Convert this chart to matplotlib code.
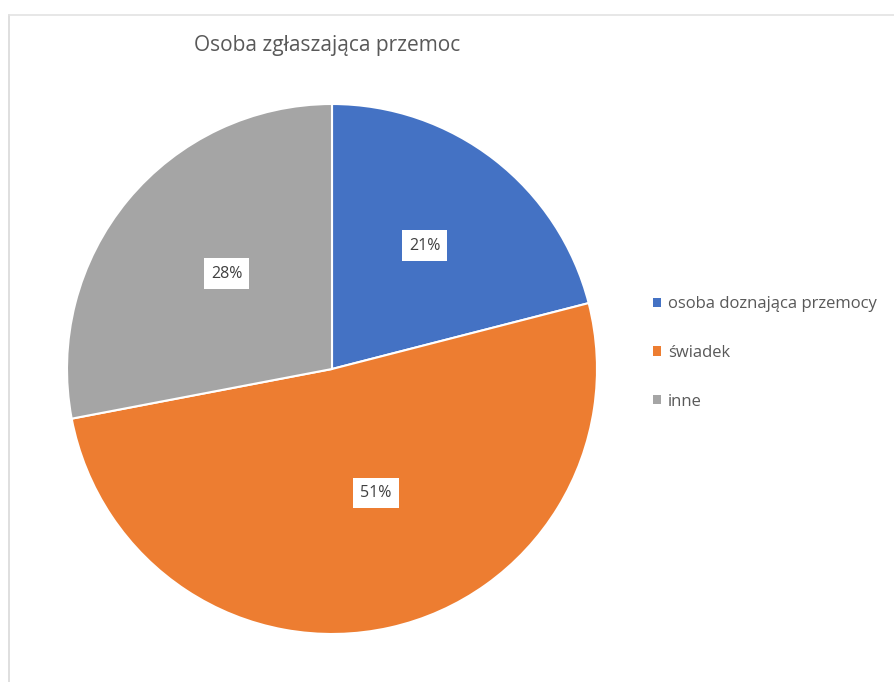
import matplotlib
matplotlib.use("Agg")
import matplotlib.pyplot as plt
from matplotlib.lines import Line2D

plt.rcParams['font.family'] = ['Open Sans', 'DejaVu Sans']

title = "Osoba zgłaszająca przemoc"
categories = ["osoba doznająca przemocy", "świadek", "inne"]
values = [21, 51, 28]
colors = ["#4472C4", "#ED7D31", "#A5A5A5"]
# data-label anchor positions (fraction of radius), as placed in the reference
label_pos = [(0.349, 0.466), (0.166, -0.468), (-0.398, 0.360)]

W, H = 894, 682
fig = plt.figure(figsize=(W / 100, H / 100), dpi=100)
fig.patch.set_facecolor("white")

# chart border (left and top visible)
fig.add_artist(Line2D([8.5 / W, 8.5 / W], [0, 1 - 15 / H], transform=fig.transFigure, color="#d9d9d9", lw=1.2))
fig.add_artist(Line2D([8.5 / W, 1], [1 - 15 / H, 1 - 15 / H], transform=fig.transFigure, color="#e3e3e3", lw=1.2))

cx, cy, r = 332, 369, 265
ax = fig.add_axes([(cx - r) / W, (H - cy - r) / H, 2 * r / W, 2 * r / H])
wedges, texts, autotexts = ax.pie(
    values, colors=colors, startangle=90, counterclock=False,
    autopct=lambda p: f"{p:.0f}%", pctdistance=0.585,
    wedgeprops=dict(edgecolor="white", linewidth=1.5),
    textprops=dict(fontsize=11.5, color="#404040"),
)
for t, pos in zip(autotexts, label_pos):
    t.set_position(pos)
    t.set_bbox(dict(facecolor="white", edgecolor="none", boxstyle="square,pad=0.45"))
ax.set_xlim(-1, 1)
ax.set_ylim(-1, 1)

fig.text(327 / W, 1 - 46 / H, title, ha="center", va="center", fontsize=15, color="#595959")

leg = fig.legend(
    wedges, categories, loc="center left",
    bbox_to_anchor=(638 / W, 1 - 353 / H), frameon=False,
    fontsize=12, labelspacing=1.95, handlelength=0.5, handleheight=0.5,
    handletextpad=0.4, labelcolor="#595959",
)
for h in leg.legend_handles:
    h.set_edgecolor("none")

fig.savefig("out.png", dpi=100, facecolor="white")
